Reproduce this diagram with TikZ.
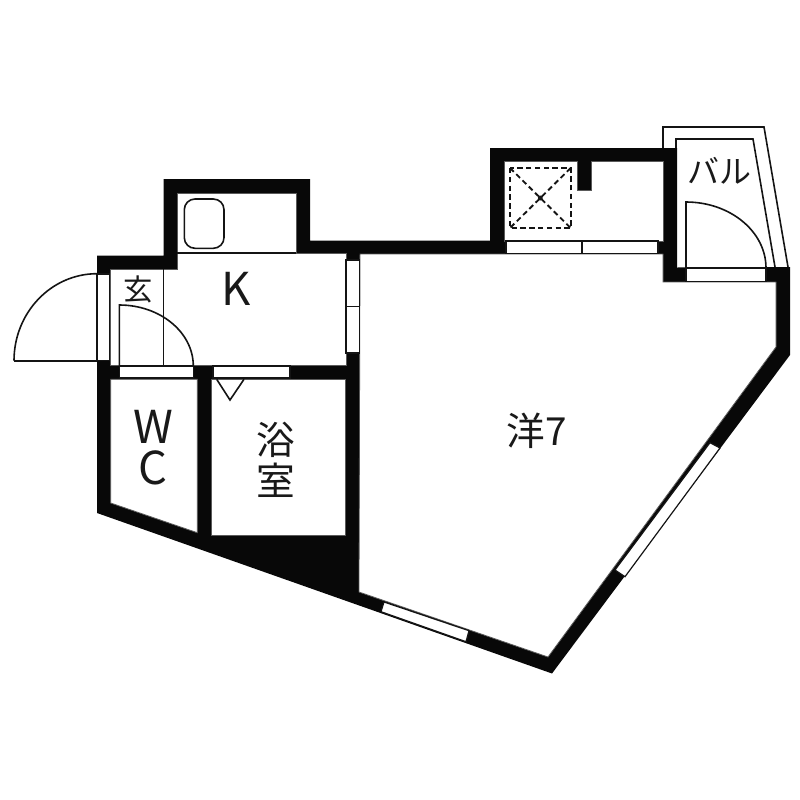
\documentclass[tikz,border=0pt]{standalone}
\usepackage{fontspec}
\newfontfamily\jpfont{Noto Sans CJK JP}
\tikzset{
  wallfill/.style={fill={rgb, 255:red, 8; green, 8; blue, 8 },draw=none},
  roomfill/.style={fill=white,draw={rgb, 255:red, 90; green, 90; blue, 90 },line width=0.6pt},
  openfill/.style={fill=white,draw={rgb, 255:red, 20; green, 20; blue, 20 },line width=0.9pt},
  thinline/.style={draw={rgb, 255:red, 20; green, 20; blue, 20 },line width=1.2pt},
  planlabel/.style={inner sep=0pt,font=\jpfont,text={rgb, 255:red, 25; green, 25; blue, 25 }},
}
\begin{document}
\begin{tikzpicture}[x=0.75pt,y=0.75pt,yscale=-1,xscale=1]
\useasboundingbox (0,0) rectangle (800,800);

%Shape: Balcony outline
\draw [thinline] (663,148) -- (663,127) -- (764,127) -- (788,267) ;
\draw [thinline] (676,148) -- (676,139) -- (753,139) -- (775,267) ;
%Shape: Walls
\path [wallfill] (97,255.7) -- (163.5,255.7) -- (163.5,179) -- (310,179) -- (310,240.5) -- (490,240.5) -- (490,148) -- (677,148) -- (677,267.5) -- (790,267) -- (790,355) -- (552,673.5) -- (97,513) -- cycle ;
%Shape: Rooms
\draw [roomfill] (110,269) -- (177.3,269) -- (177.3,193) -- (296,193) -- (296,253) -- (346,253) -- (346,365.7) -- (110,365.7) -- cycle ;
\draw [roomfill] (360,254) -- (663,254) -- (663,282) -- (776,282) -- (776,347) -- (548,657) -- (359,592) -- cycle ;
\draw [roomfill] (504,161.7) -- (577.7,161.7) -- (577.7,190.7) -- (591.7,190.7) -- (591.7,161.7) -- (663,161.7) -- (663,241) -- (504,241) -- cycle ;
\draw [roomfill] (110.7,379.3) -- (197.3,379.3) -- (197.3,532.7) -- (110.7,503) -- cycle ;
\draw [roomfill] (211.7,379.3) -- (345.3,379.3) -- (345.3,535) -- (211.7,535) -- cycle ;
%Shape: Openings
\draw [openfill] (97,274) rectangle (109.7,360.7) ;
\draw [openfill] (346,260) rectangle (359.5,353) ;
\draw [thinline,line width=0.9pt] (346,306.7) -- (359.5,306.7) ;
\draw [openfill] (119.3,366) rectangle (193.3,378) ;
\draw [openfill] (213,366) rectangle (290,378) ;
\draw [openfill] (506,241) rectangle (658,253.5) ;
\draw [thinline,line width=0.9pt] (582,241) -- (582,253.5) ;
\draw [openfill] (686,268) rectangle (766,281.5) ;
\draw [openfill] (384,602) -- (469,630.7) -- (466,641.7) -- (381,611.7) -- cycle ;
\draw [openfill] (615,570) -- (710,442.7) -- (720,448) -- (625,576.7) -- cycle ;
%Shape: Doors
\draw [thinline] (14,360.7) -- (97,360.7) ;
\draw [thinline] (14,360.7) arc [start angle=180,end angle=270,x radius=83,y radius=87] ;
\draw [thinline] (119.3,366) -- (119.3,305) arc [start angle=270,end angle=360,x radius=74,y radius=61] ;
\draw [thinline] (686,268) -- (686,202) arc [start angle=270,end angle=360,x radius=80,y radius=66] ;
%Straight Lines
\draw [thinline] (163.3,269) -- (163.3,366) ;
\draw [thinline,line width=0.8pt] (177.3,253) -- (296,253) ;
%Shape: Sink
\draw [thinline,rounded corners=8] (184.3,199) rectangle (224,248.3) ;
%Shape: Vent
\draw [thinline,line width=1.4pt,dash pattern=on 4pt off 2.6pt] (510,168) rectangle (570.7,228) ;
\draw [thinline,line width=1.4pt,dash pattern=on 4pt off 2.6pt] (510,168) -- (570.7,228) (570.7,168) -- (510,228) ;
\fill [black!90] (540.3,198) circle [radius=2.5] ;
%Shape: Triangle mark
\draw [thinline] (216.7,379.3) -- (230,400) -- (244,379.3) ;

% Text Node
\node (genkan) at (138,289) [planlabel,font=\jpfont\fontsize{22}{22}\selectfont] {玄};
\node (kitchen) at (236,289) [planlabel,font=\jpfont\fontsize{34}{34}\selectfont] {K};
\node (balcony) at (719,171) [planlabel,font=\jpfont\fontsize{24}{24}\selectfont] {バル};
\node (wcw) at (153,427) [planlabel,font=\jpfont\fontsize{34}{34}\selectfont] {W};
\node (wcc) at (153,468) [planlabel,font=\jpfont\fontsize{34}{34}\selectfont] {C};
\node (bathtop) at (276,440) [planlabel,font=\jpfont\fontsize{29}{29}\selectfont] {浴};
\node (bathbottom) at (276,480) [planlabel,font=\jpfont\fontsize{29}{29}\selectfont] {室};
\node (western) at (537,431) [planlabel,font=\jpfont\fontsize{29}{29}\selectfont] {洋7};

\end{tikzpicture}
\end{document}
